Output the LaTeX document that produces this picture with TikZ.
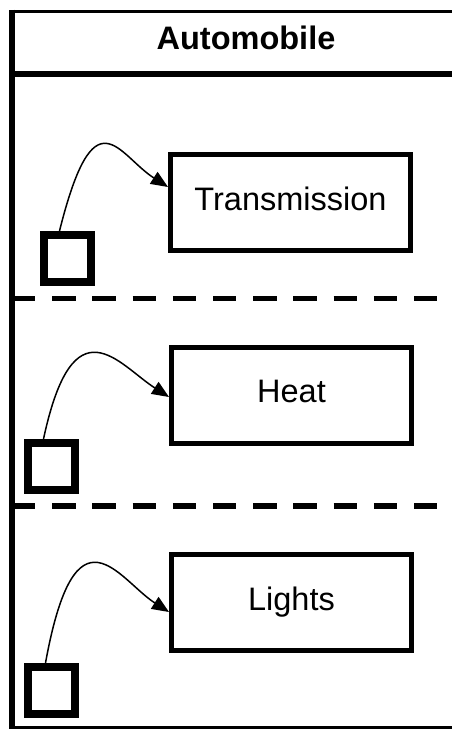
\documentclass[tikz,border=0pt]{standalone}
\usepackage{fontspec}
\setmainfont{Liberation Sans}
\usetikzlibrary{arrows.meta}
\begin{document}
\begin{tikzpicture}[x=1pt,y=-1pt]
  \tikzstyle{box}=[rectangle,draw,line width=5pt,minimum width=240pt,minimum height=96pt,inner sep=0pt,text height=23pt,text depth=8pt,font=\fontsize{32.5}{38}\selectfont]
  \tikzstyle{port}=[rectangle,draw,line width=8pt,minimum size=47pt,inner sep=0pt]
  \tikzstyle{link}=[draw,line width=1.5pt,-{Stealth[length=17pt,width=14pt,inset=0pt]}]
  \tikzstyle{divider}=[line width=5.5pt,dash pattern=on 23.3pt off 16.9pt]
  \useasboundingbox (0,0) rectangle (452,730);
  % lane frame
  \draw [line width=3.5pt] (9,11.5) -- (452,11.5);
  \draw [line width=6pt] (12,9.75) -- (12,729);
  \draw [line width=3pt] (9,727.5) -- (452,727.5);
  \draw [line width=6pt] (12,74) -- (452,74);
  \node [font=\fontsize{32.5}{38}\selectfont\bfseries] (title) at (246,37.5) {Automobile};
  \draw [divider] (12,298.5) -- (452,298.5);
  \draw [divider] (12,506) -- (452,506);
  % steps
  \node [box] (trans)  at (290.5,202.5) {Transmission};
  \node [box] (heat)   at (291.5,395)   {Heat};
  \node [box] (lights) at (291.5,602.5) {Lights};
  \node [port] (sq1) at (67.5,258.5) {};
  \node [port] (sq2) at (51.5,466.5) {};
  \node [port] (sq3) at (51.5,690.5) {};
  \draw [link] ([xshift=-8pt]sq1.north) .. controls +(35,-140) and +(-50,-32) .. ([yshift=15.5pt]trans.west);
  \draw [link] ([xshift=-8pt]sq2.north) .. controls +(30,-140) and +(-50,-32) .. ([yshift=-2pt]heat.west);
  \draw [link] ([xshift=-6pt]sq3.north) .. controls +(30,-165) and +(-50,-32) .. ([yshift=-9.5pt]lights.west);
\end{tikzpicture}
\end{document}
